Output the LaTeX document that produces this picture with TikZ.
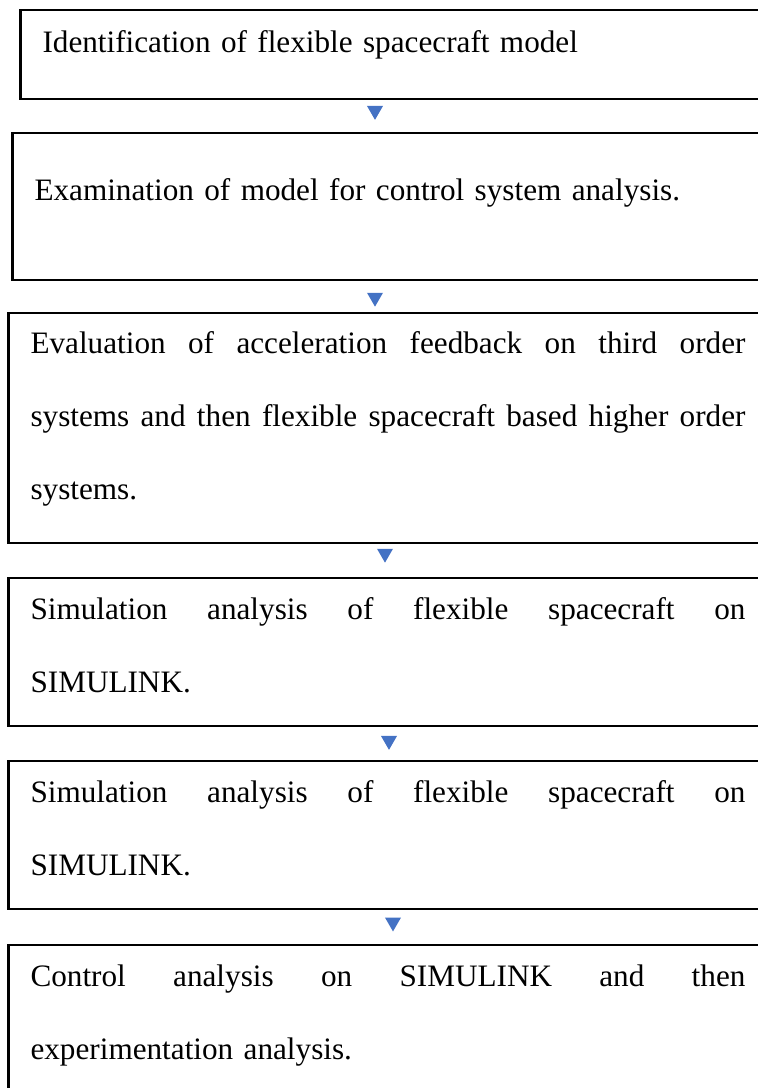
\documentclass[tikz,border=0pt]{standalone}
\usepackage{fontspec}
\setmainfont{Liberation Serif}
\usetikzlibrary{fit,shapes.geometric}
\definecolor{tipblue}{HTML}{4472C4}
\newcommand{\fullline}[1]{\leavevmode\hbox to 268.1pt{\spaceskip=0.25em plus 1fil\relax #1}}

\begin{document}
\begin{tikzpicture}[x=0.375pt, y=-0.375pt,
    stepbox/.style={draw, line width=0.85pt, inner sep=0pt},
    steptext/.style={anchor=base west, inner sep=0pt, text width=270pt, align=left,
                     font=\fontsize{11.7}{27.5}\selectfont},
    flowtip/.style={regular polygon, regular polygon sides=3, shape border rotate=180,
                    fill=tipblue, minimum size=6.93pt, inner sep=0pt}]
  \useasboundingbox (0,0) rectangle (758,1088);
  \clip (0,0) rectangle (758,1088);

  % boxes (cut off at the right and at the bottom)
  \node[stepbox, fit={(20.5,10) (775,99)}]   (box1) {};
  \node[stepbox, fit={(12.5,133) (775,280)}] (box2) {};
  \node[stepbox, fit={(8.5,313) (775,543)}]  (box3) {};
  \node[stepbox, fit={(8.5,578) (775,726)}]  (box4) {};
  \node[stepbox, fit={(8.5,761) (775,909)}]  (box5) {};
  \node[stepbox, fit={(8.5,945) (775,1110)}] (box6) {};

  % texts
  \node[steptext] (text1) at (42,52) {Identification of flexible spacecraft model};
  \node[steptext] (text2) at (34,200) {Examination of model for control system analysis.};
  \node[steptext] (text3) at (30,353) {%
    \fullline{Evaluation of acceleration feedback on third order}\\
    \fullline{systems and then flexible spacecraft based higher order}\\
    systems.};
  \node[steptext] (text4) at (30,619) {%
    \fullline{Simulation analysis of flexible spacecraft on}\\
    SIMULINK.};
  \node[steptext] (text5) at (30,802) {%
    \fullline{Simulation analysis of flexible spacecraft on}\\
    SIMULINK.};
  \node[steptext] (text6) at (30,986) {%
    \fullline{Control analysis on SIMULINK and then}\\
    experimentation analysis.};

  % arrow heads between the boxes
  \node[flowtip] (tip1) at (375,110.6) {};
  \node[flowtip] (tip2) at (375,297.4) {};
  \node[flowtip] (tip3) at (385,553.4) {};
  \node[flowtip] (tip4) at (389,740.6) {};
  \node[flowtip] (tip5) at (393,922.2) {};
\end{tikzpicture}
\end{document}
